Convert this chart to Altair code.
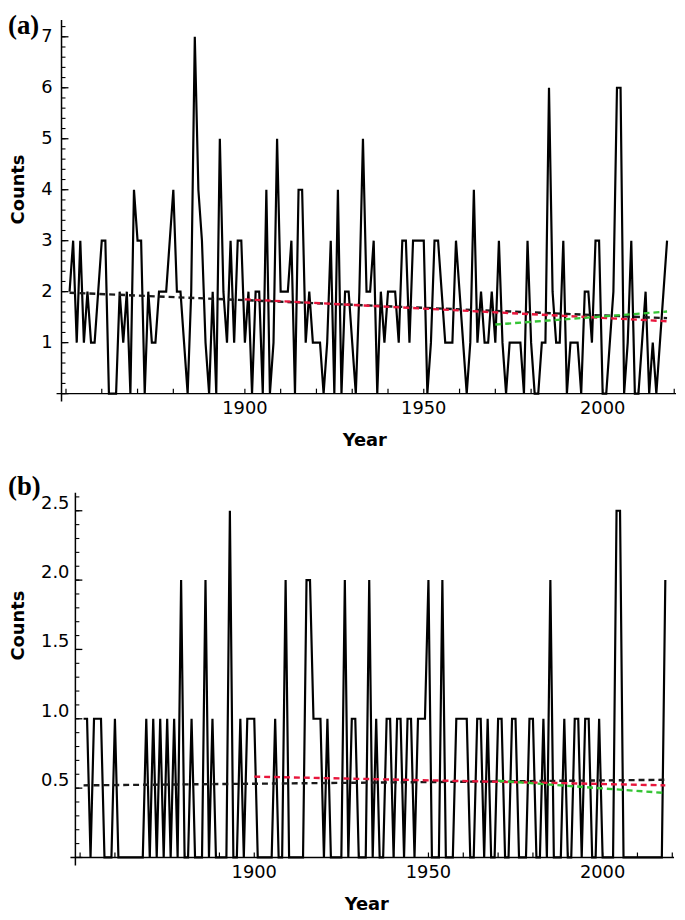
import altair as alt
import pandas as pd

FIRST_YEAR = 1851

# Panel (a): annual counts 1851-2018
counts_a = [
    2, 3, 1, 3, 1, 2, 1, 1, 2, 3,      # 1851-1860
    3, 0, 0, 0, 2, 1, 2, 0, 4, 3,      # 1861-1870
    3, 0, 2, 1, 1, 2, 2, 2, 3, 4,      # 1871-1880
    2, 2, 1, 0, 2, 7, 4, 3, 1, 0,      # 1881-1890
    2, 0, 5, 2, 1, 3, 1, 3, 3, 1,      # 1891-1900
    2, 0, 2, 2, 0, 4, 0, 1, 5, 2,      # 1901-1910
    2, 2, 3, 0, 4, 4, 1, 2, 1, 1,      # 1911-1920
    1, 0, 1, 3, 0, 4, 0, 2, 2, 1,      # 1921-1930
    0, 2, 5, 2, 2, 3, 0, 2, 1, 2,      # 1931-1940
    2, 2, 1, 3, 3, 1, 3, 3, 3, 3,      # 1941-1950
    0, 1, 3, 3, 2, 1, 1, 1, 3, 2,      # 1951-1960
    1, 0, 1, 4, 1, 2, 1, 1, 2, 1,      # 1961-1970
    3, 1, 0, 1, 1, 1, 1, 0, 3, 1,      # 1971-1980
    0, 0, 1, 1, 6, 2, 1, 1, 3, 0,      # 1981-1990
    1, 1, 1, 0, 2, 2, 1, 3, 3, 0,      # 1991-2000
    0, 1, 2, 6, 6, 0, 1, 3, 0, 0,      # 2001-2010
    1, 2, 0, 1, 0, 1, 2, 3,            # 2011-2018
]

# Panel (b): annual counts 1851-2018
counts_b = [
    1, 1, 0, 1, 1, 1, 0, 0, 0, 1,      # 1851-1860
    0, 0, 0, 0, 0, 0, 0, 0, 1, 0,      # 1861-1870
    1, 0, 1, 0, 1, 0, 1, 0, 2, 0,      # 1871-1880
    0, 1, 0, 0, 0, 2, 0, 1, 0, 0,      # 1881-1890
    0, 0, 2.5, 0, 0, 1, 0, 1, 1, 1,    # 1891-1900
    0, 0, 0, 0, 0, 1, 0, 0, 2, 0,      # 1901-1910
    0, 0, 0, 0, 2, 2, 1, 1, 1, 0,      # 1911-1920
    1, 0, 0, 0, 0, 2, 0, 1, 1, 0,      # 1921-1930
    0, 0, 2, 0, 1, 0, 0, 1, 1, 0,      # 1931-1940
    1, 1, 0, 1, 1, 0, 1, 1, 1, 2,      # 1941-1950
    0, 0, 0, 2, 0, 0, 0, 1, 1, 1,      # 1951-1960
    1, 0, 0, 1, 1, 0, 1, 0, 0, 1,      # 1961-1970
    1, 0, 0, 1, 1, 0, 0, 0, 1, 1,      # 1971-1980
    0, 0, 1, 0, 2, 0, 0, 0, 1, 0,      # 1981-1990
    0, 1, 1, 0, 1, 1, 0, 0, 1, 0,      # 1991-2000
    0, 0, 0, 2.5, 2.5, 0, 0, 0, 0, 0,  # 2001-2010
    0, 0, 0, 0, 0, 0, 0, 2,            # 2011-2018
]

# Linear trend lines (start / end points)
trend_names = ["1851-2018", "1900-2018", "1970-2018"]
trend_colors = ["#1a1a1a", "#e8163c", "#35c435"]
trend_start_years = [1851, 1900, 1970]
trend_end_years = [2018, 2018, 2018]
trend_a_start = [1.98, 1.85, 1.355]
trend_a_end = [1.48, 1.42, 1.61]
trend_b_start = [0.52, 0.583, 0.553]
trend_b_end = [0.56, 0.52, 0.465]

year_labels = [1900, 1950, 2000]
decade_ticks = list(range(1850, 2021, 10))
ylabels_a = [1, 2, 3, 4, 5, 6, 7]
ylabels_b = [0.5, 1.0, 1.5, 2.0, 2.5]
ymajor_a = [0, 1, 2, 3, 4, 5, 6, 7]
yminor_a = [round(0.2 * i, 1) for i in range(37)]
ymajor_b = [0, 0.5, 1.0, 1.5, 2.0, 2.5]
yminor_b = [round(0.1 * i, 1) for i in range(27)]

FONT = "DejaVu Sans"


def make_panel(counts, t_start, t_end, letter, letter_y, ymax, ylabels, yfmt,
               ymajor, yminor, width, height, xdomain, axis_x, label_x,
               label_dy, title_y, year_x):
    years = list(range(FIRST_YEAR, FIRST_YEAR + len(counts)))
    df = pd.DataFrame({"year": years, "count": counts})
    xs = alt.Scale(domain=xdomain, nice=False, zero=False)
    ys = alt.Scale(domain=[0, ymax], nice=False, zero=False)
    X = alt.X("year:Q", scale=xs, axis=None)
    Y = alt.Y("count:Q", scale=ys, axis=None)

    line = alt.Chart(df).mark_line(color="black", strokeWidth=2.2,
                                   strokeJoin="miter").encode(x=X, y=Y)

    deco = pd.DataFrame({"k": [0]})
    xline = alt.Chart(deco).mark_rule(color="black", strokeWidth=1.5).encode(
        x=alt.value(axis_x - 5), x2=alt.value(width), y=alt.value(height))
    yline = alt.Chart(deco).mark_rule(color="black", strokeWidth=1.5).encode(
        x=alt.value(axis_x), y=alt.value(0), y2=alt.value(height + 8))

    ytick_major = alt.Chart(pd.DataFrame({"count": ymajor})).mark_rule(
        color="black", strokeWidth=1.3).encode(
        y=Y, x=alt.value(axis_x), x2=alt.value(axis_x + 7))
    ytick_minor = alt.Chart(pd.DataFrame({"count": yminor})).mark_rule(
        color="black", strokeWidth=1.1).encode(
        y=Y, x=alt.value(axis_x), x2=alt.value(axis_x + 4))
    xtick = alt.Chart(pd.DataFrame({"year": decade_ticks})).mark_rule(
        color="black", strokeWidth=1.2).encode(
        x=X, y=alt.value(height - 5), y2=alt.value(height))

    ylab = alt.Chart(pd.DataFrame({"count": ylabels})).mark_text(
        font=FONT, fontSize=18, align="right", baseline="middle",
        color="black", dy=label_dy).encode(
        y=Y, x=alt.value(label_x), text=alt.Text("count:Q", format=yfmt))
    xlab = alt.Chart(pd.DataFrame({"year": year_labels})).mark_text(
        font=FONT, fontSize=18, align="center", baseline="middle",
        color="black").encode(
        x=X, y=alt.value(height + 16), text=alt.Text("year:Q", format="d"))

    ytitle = alt.Chart(pd.DataFrame({"t": ["Counts"]})).mark_text(
        font=FONT, fontSize=18, fontWeight="bold", angle=270, align="center",
        baseline="middle", color="black").encode(
        x=alt.value(19.5 - 62), y=alt.value(title_y), text="t:N")
    xtitle = alt.Chart(pd.DataFrame({"t": ["Year"]})).mark_text(
        font=FONT, fontSize=18, fontWeight="bold", align="center",
        baseline="middle", color="black").encode(
        x=alt.value(year_x), y=alt.value(height + 48), text="t:N")

    trends = []
    for name, color, y0, y1, v0, v1 in zip(trend_names, trend_colors,
                                           trend_start_years, trend_end_years,
                                           t_start, t_end):
        tdf = pd.DataFrame({"year": [y0, y1], "count": [v0, v1], "series": [name, name]})
        trends.append(alt.Chart(tdf).mark_line(color=color, strokeWidth=2.4,
                                               strokeDash=[6, 4]).encode(x=X, y=Y))

    letter_chart = alt.Chart(pd.DataFrame({"label": [letter]})).mark_text(
        font="Liberation Serif", fontSize=27, fontWeight="bold", align="left",
        baseline="top", color="black").encode(
        x=alt.value(-54), y=alt.value(letter_y), text="label:N")

    return alt.layer(line, xline, yline, ytick_minor, ytick_major, xtick,
                     *trends, ylab, xlab, ytitle, xtitle,
                     letter_chart).properties(width=width, height=height)


panel_a = make_panel(counts_a, trend_a_start, trend_a_end, "(a)", -7, 7.33,
                     ylabels_a, "d", ymajor_a, yminor_a, 620, 377,
                     [1848.75, 2020.5], 0, -9, 0, 171, 306)
panel_b = make_panel(counts_b, trend_b_start, trend_b_end, "(b)", -19, 2.63,
                     ylabels_b, ".1f", ymajor_b, yminor_b, 618, 368,
                     [1844.67, 2020.5], 14, 8, -7, 134, 308)

chart = alt.vconcat(panel_a, panel_b, spacing=23).properties(
    padding=0, background="white").configure_view(stroke=None)

chart.save("out.html", embed_options={"renderer": "svg", "actions": False})
